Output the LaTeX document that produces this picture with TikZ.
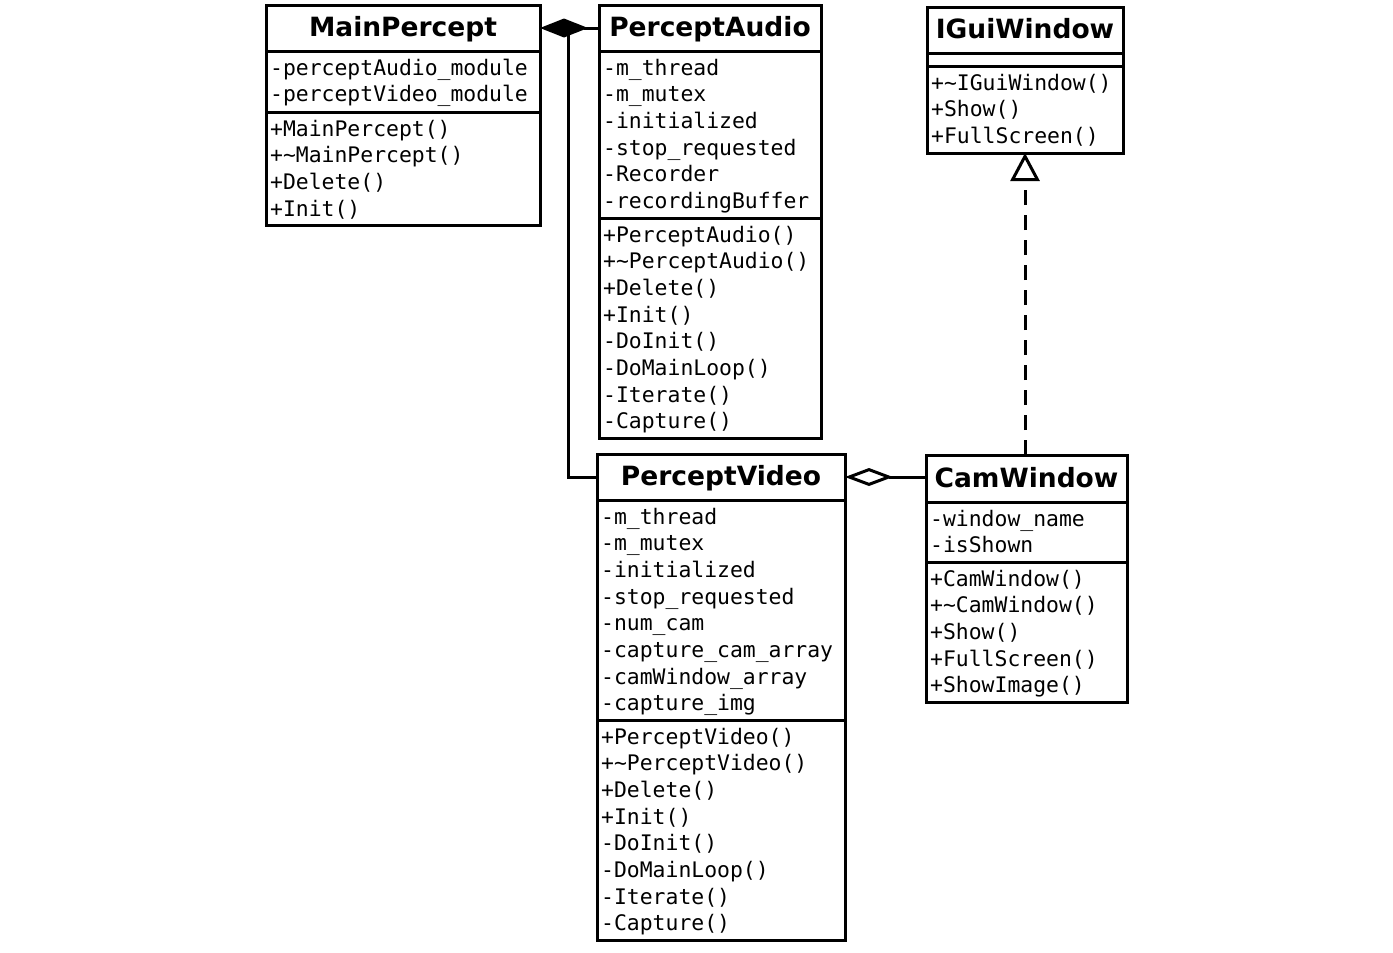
\documentclass[tikz,border=0pt]{standalone}
\usepackage{fontspec}
\newfontfamily\monof{DejaVu Sans Mono}
\newfontfamily\titlef{DejaVu Sans}
\usetikzlibrary{arrows.meta,calc}

% list the members of one compartment, one line each
\newcommand\umlmembers[2]{%
  \foreach \txt [count=\i from 0] in {#2}
    \node[member] (#1-\i) at ($(#1.north west)+(4,{24+26.7*\i})$) {\txt};}

\begin{document}
\begin{tikzpicture}[x=1pt,y=-1pt,
  comp/.style={draw, line width=3pt, inner sep=0pt, outer sep=0pt, anchor=north},
  member/.style={anchor=base west, inner sep=0pt, font=\monof\fontsize{21.4}{26}\selectfont},
  classname/.style={anchor=base, inner sep=0pt, font=\titlef\bfseries\fontsize{26.5}{30}\selectfont},
  link/.style={line width=3pt},
  composition/.style={link, -{Diamond[length=48pt, width=19pt, fill=black]}},
  aggregation/.style={link, -{Diamond[open, length=48pt, width=18pt]}},
  realization/.style={link, dash pattern=on 15pt off 10pt, -{Triangle[open, length=28pt, width=29pt]}}
]
\useasboundingbox (0,0) rectangle (1393,953);

% MainPercept
\node[comp, anchor=north west, minimum width=274, minimum height=46] (mp-t) at (266,5) {};
\node[comp, minimum width=274, minimum height=61] (mp-a) at (mp-t.south) {};
\node[comp, minimum width=274, minimum height=113] (mp-m) at (mp-a.south) {};
\node[classname] (mp-name) at ($(mp-t.south)+(0,-15)$) {MainPercept};
\umlmembers{mp-a}{-perceptAudio\_module,-perceptVideo\_module}
\umlmembers{mp-m}{+MainPercept(),+\textasciitilde MainPercept(),+Delete(),+Init()}

% PerceptAudio
\node[comp, anchor=north west, minimum width=222, minimum height=46] (pa-t) at (599,5) {};
\node[comp, minimum width=222, minimum height=167] (pa-a) at (pa-t.south) {};
\node[comp, minimum width=222, minimum height=220] (pa-m) at (pa-a.south) {};
\node[classname] (pa-name) at ($(pa-t.south)+(0,-15)$) {PerceptAudio};
\umlmembers{pa-a}{-m\_thread,-m\_mutex,-initialized,-stop\_requested,-Recorder,-recordingBuffer}
\umlmembers{pa-m}{+PerceptAudio(),+\textasciitilde PerceptAudio(),+Delete(),+Init(),-DoInit(),-DoMainLoop(),-Iterate(),-Capture()}

% IGuiWindow
\node[comp, anchor=north west, minimum width=196, minimum height=46] (ig-t) at (927,7) {};
\node[comp, minimum width=196, minimum height=13] (ig-a) at (ig-t.south) {};
\node[comp, minimum width=196, minimum height=87] (ig-m) at (ig-a.south) {};
\node[classname] (ig-name) at ($(ig-t.south)+(0,-15)$) {IGuiWindow};
\umlmembers{ig-m}{+\textasciitilde IGuiWindow(),+Show(),+FullScreen()}

% PerceptVideo
\node[comp, anchor=north west, minimum width=248, minimum height=46] (pv-t) at (597,454) {};
\node[comp, minimum width=248, minimum height=220] (pv-a) at (pv-t.south) {};
\node[comp, minimum width=248, minimum height=220] (pv-m) at (pv-a.south) {};
\node[classname] (pv-name) at ($(pv-t.south)+(0,-15)$) {PerceptVideo};
\umlmembers{pv-a}{-m\_thread,-m\_mutex,-initialized,-stop\_requested,-num\_cam,-capture\_cam\_array,-camWindow\_array,-capture\_img}
\umlmembers{pv-m}{+PerceptVideo(),+\textasciitilde PerceptVideo(),+Delete(),+Init(),-DoInit(),-DoMainLoop(),-Iterate(),-Capture()}

% CamWindow
\node[comp, anchor=north west, minimum width=201, minimum height=47] (cw-t) at (926,455) {};
\node[comp, minimum width=201, minimum height=60] (cw-a) at (cw-t.south) {};
\node[comp, minimum width=201, minimum height=140] (cw-m) at (cw-a.south) {};
\node[classname] (cw-name) at ($(cw-t.south)+(0,-15)$) {CamWindow};
\umlmembers{cw-a}{-window\_name,-isShown}
\umlmembers{cw-m}{+CamWindow(),+\textasciitilde CamWindow(),+Show(),+FullScreen(),+ShowImage()}

% relations
\coordinate (mp-join) at ($(mp-t.east)+(28,0)$);
\draw[composition] (pa-t.west) -- (mp-t.east);
\draw[link] (pv-t.west) -| (mp-join);
\draw[aggregation] (cw-t.west |- pv-t.east) -- (pv-t.east);
\draw[realization] (ig-m.south |- cw-t.north) -- (ig-m.south);
\end{tikzpicture}
\end{document}
